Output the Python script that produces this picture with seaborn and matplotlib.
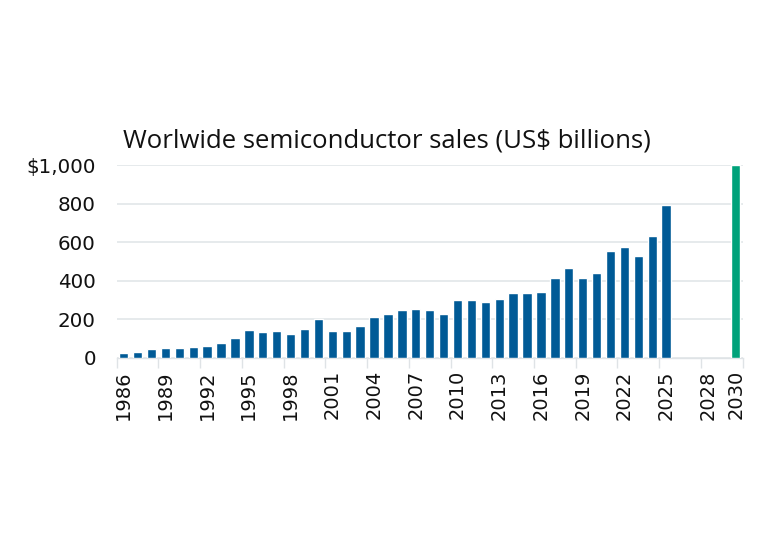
import matplotlib
matplotlib.use("Agg")
import matplotlib.pyplot as plt
import seaborn as sns
import pandas as pd
from matplotlib.ticker import FuncFormatter, FixedLocator

years = list(range(1986, 2026)) + [2030]
sales = [26, 31, 43, 48, 50, 55, 59, 78, 102, 144,
         131, 137, 125, 149, 202, 138, 140, 166, 213, 227,
         247, 254, 248, 225, 298, 298, 289, 303, 334, 334,
         339, 412, 467, 412, 438, 555, 574, 526, 630, 791,
         1000]
kind = ["actual"] * 40 + ["forecast"]
tick_years = list(range(1986, 2029, 3)) + [2030]
tick_labels = [str(y) for y in tick_years]
title = "Worlwide semiconductor sales (US$ billions)"

df = pd.DataFrame({"year": years, "sales": sales, "kind": kind})

sns.set_theme(style="white")
plt.rcParams["font.family"] = ["DejaVu Sans"]

fig = plt.figure(figsize=(7.76, 5.52), dpi=100)
ax = fig.add_axes([0.1504, 0.352, 0.8066, 0.349])

sns.barplot(data=df, x="year", y="sales", hue="kind",
            palette={"actual": "#005a96", "forecast": "#00a27a"},
            native_scale=True, width=0.67, dodge=False, legend=False,
            saturation=1, ax=ax, zorder=3)

ax.set_xlim(1985.5, 2030.5)
ax.set_ylim(0, 1000)
ax.set_yticks([0, 200, 400, 600, 800, 1000])
ax.yaxis.set_major_formatter(FuncFormatter(lambda v, p: "$1,000" if v == 1000 else f"{int(v)}"))
ax.grid(axis="y", color="#e4e8eb", linewidth=1.3, zorder=0)
ax.set_axisbelow(True)

ax.xaxis.set_major_locator(FixedLocator(tick_years))
ax.set_xticklabels(tick_labels, rotation=90, fontsize=14)
ax.xaxis.set_minor_locator(FixedLocator([y - 0.5 for y in tick_years[:-1]] + [2030.5]))
ax.tick_params(axis="x", which="major", length=0, pad=9, labelcolor="#111111")
ax.tick_params(axis="x", which="minor", length=7, width=1, color="#dfe3e6", bottom=True)
ax.tick_params(axis="y", length=0, pad=15, labelsize=14.3, labelcolor="#111111")

for s in ["left", "right", "top"]:
    ax.spines[s].set_visible(False)
ax.spines["bottom"].set_color("#dfe3e6")
ax.spines["bottom"].set_linewidth(1)

ax.set_xlabel("")
ax.set_ylabel("")
t = fig.text(0.158, 0.745, title, fontsize=14, color="#111111", ha="left", va="center",
             family=["Open Sans", "DejaVu Sans"])
fig.canvas.draw()
w = t.get_window_extent().width
t.set_fontsize(14 * 529.0 / w)

fig.savefig("out.png", dpi=100, facecolor="white")
